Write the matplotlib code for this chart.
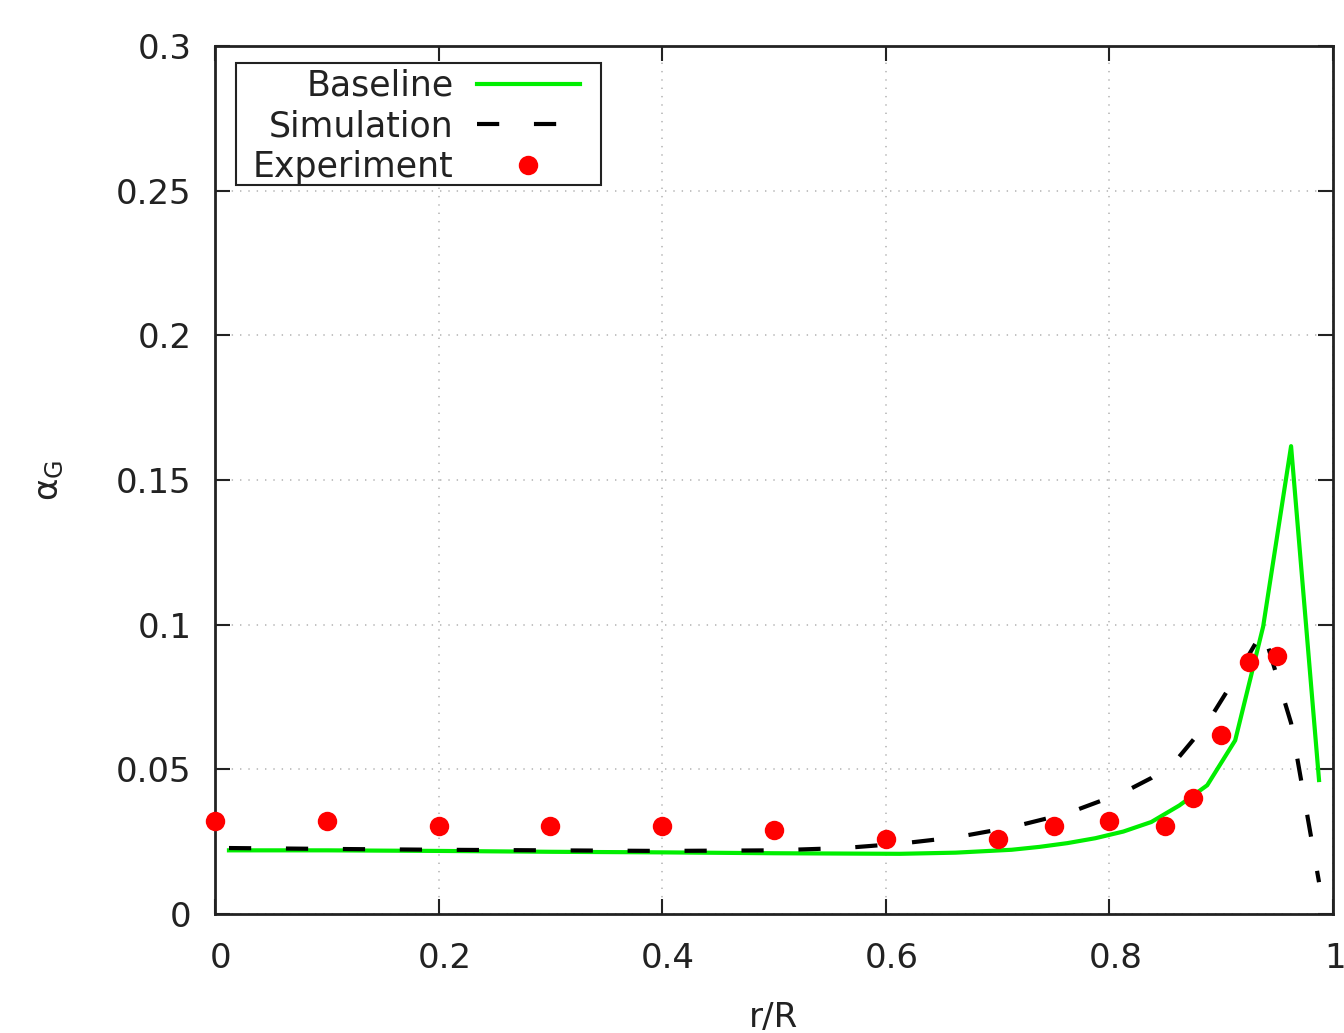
import matplotlib
matplotlib.use("Agg")
import matplotlib.pyplot as plt
import matplotlib.transforms as mtransforms
from matplotlib.patches import Rectangle
from matplotlib.ticker import FuncFormatter

plt.rcParams['font.family'] = ['DejaVu Sans']
plt.rcParams['lines.scale_dashes'] = False

# Baseline (green solid)
base_x = [0.0125, 0.1, 0.2, 0.3, 0.4, 0.5, 0.6125, 0.6625, 0.7125, 0.7375,
          0.7625, 0.7875, 0.8125, 0.8375, 0.8625, 0.8875, 0.9125, 0.9375,
          0.9625, 0.9875]
base_y = [0.0220, 0.0220, 0.0218, 0.0215, 0.0213, 0.0210, 0.0208, 0.0212, 0.0222, 0.0232,
          0.0245, 0.0262, 0.0285, 0.0318, 0.0375, 0.0445, 0.0600, 0.0993,
          0.1617, 0.0463]

# Simulation (black dashed)
sim_x = [0.0125, 0.1, 0.2, 0.3, 0.4, 0.5, 0.5625, 0.6125, 0.6625, 0.7125,
         0.7625, 0.8125, 0.8375, 0.8625, 0.8875, 0.9125, 0.9375, 0.9625, 0.9875]
sim_y = [0.0228, 0.0225, 0.0222, 0.0220, 0.0218, 0.0220, 0.0228, 0.0243, 0.0265, 0.0300,
         0.0348, 0.0420, 0.0470, 0.0544, 0.0660, 0.0815, 0.0980, 0.0660, 0.0110]

# Experiment (red dots)
exp_x = [0.0, 0.1, 0.2, 0.3, 0.4, 0.5, 0.6, 0.7, 0.75, 0.8, 0.85, 0.875, 0.9, 0.925, 0.95]
exp_y = [0.032, 0.032, 0.0305, 0.0305, 0.0305, 0.029, 0.026, 0.026, 0.0305, 0.032,
         0.0305, 0.040, 0.062, 0.087, 0.089]

x_ticks = [0, 0.2, 0.4, 0.6, 0.8, 1.0]
y_ticks = [0, 0.05, 0.1, 0.15, 0.2, 0.25, 0.3]

W, H = 1344, 1033
fig = plt.figure(figsize=(W / 100, H / 100), dpi=100)
ax = fig.add_axes([215/W, 1-914/H, 1118/W, 868/H])

ax.plot(base_x, base_y, color='#00ee00', lw=3, label='Baseline', zorder=3)
ax.plot(sim_x, sim_y, color='black', lw=3, dashes=(16, 25), label='Simulation', zorder=3)
ax.plot(exp_x, exp_y, 'o', color='#ff0000', markersize=14, markeredgewidth=0,
        label='Experiment', clip_on=False, zorder=4)

ax.set_xlim(0, 1)
ax.set_ylim(0, 0.3)
ax.set_xticks(x_ticks)
ax.set_yticks(y_ticks)
fmt = FuncFormatter(lambda v, p: ('%g' % round(v, 3)))
ax.xaxis.set_major_formatter(fmt)
ax.yaxis.set_major_formatter(fmt)
ax.tick_params(direction='in', length=11, width=1.5, top=True, right=True,
               labelsize=24.5, colors='#222222', labelcolor='#222222')
ax.tick_params(axis='x', pad=20)
ax.tick_params(axis='y', pad=17)
xlabs = ax.get_xticklabels()
for i, lab in enumerate(xlabs):
    dx = 2 if i == len(xlabs) - 1 else 6
    lab.set_transform(lab.get_transform() +
                      mtransforms.ScaledTranslation(dx/100, 0, fig.dpi_scale_trans))
ax.grid(True, color='#b8b8b8', linestyle=(0, (1, 5)), linewidth=1.2)
for s in ax.spines.values():
    s.set_linewidth(2)
    s.set_color('#222222')

ax.set_xlabel('r/R', fontsize=24.5, color='#222222', labelpad=19)
ax.set_ylabel(r'$\mathrm{\alpha_G}$', fontsize=24.5, color='#222222', labelpad=36)

leg = ax.legend(loc='upper left', bbox_to_anchor=(38/1118, 1-23/868), borderaxespad=0,
                fontsize=25, markerfirst=False, handlelength=2.97, handletextpad=0.66,
                labelspacing=0.19, borderpad=0.0, frameon=False)
for t in leg.get_texts():
    t.set_color('#222222')
leg.set_zorder(6)

fig.canvas.draw()
bb = leg.get_window_extent(fig.canvas.get_renderer())
x0, y0, x1, y1 = bb.x0 - 17, bb.y0 - 1, bb.x1 + 21, bb.y1 + 6
frame = Rectangle((x0 / W, y0 / H), (x1 - x0) / W, (y1 - y0) / H,
                  transform=fig.transFigure, fill=True, facecolor='white',
                  edgecolor='#222222', linewidth=1.5, zorder=5, clip_on=False)
ax.add_patch(frame)

fig.savefig('out.png', dpi=100)
